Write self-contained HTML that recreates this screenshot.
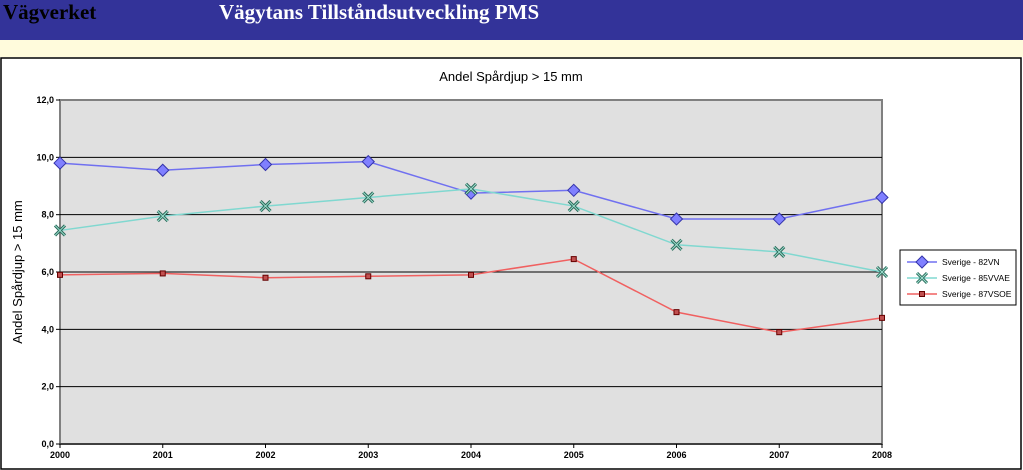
<!DOCTYPE html>
<html><head><meta charset="utf-8"><style>
body{margin:0;width:1023px;height:470px;overflow:hidden;background:#fff;font-family:"Liberation Sans",sans-serif}
#hdr{position:absolute;left:0;top:0;width:1023px;height:40px;background:#333399}
#band{position:absolute;left:0;top:40px;width:1023px;height:17px;background:#fffbdc}
.ht{position:absolute;top:0;font-family:"Liberation Serif",serif;font-weight:bold;font-size:21px}
</style></head><body>
<div id="hdr">
<div class="ht" style="left:3px;color:#000">Vägverket</div>
<div class="ht" style="left:219px;color:#fff">Vägytans Tillståndsutveckling PMS</div>
</div>
<div id="band"></div>
<svg id="c" width="1023" height="413" style="position:absolute;left:0;top:57px"></svg>
<script>
const years=["2000","2001","2002","2003","2004","2005","2006","2007","2008"];
const s82=[9.8,9.55,9.75,9.85,8.75,8.85,7.85,7.85,8.6];
const s85=[7.45,7.95,8.3,8.6,8.9,8.3,6.95,6.7,6.0];
const s87=[5.9,5.95,5.8,5.85,5.9,6.45,4.6,3.9,4.4];
const yTicks=[0,2,4,6,8,10,12];
const svg=document.getElementById('c');
const NS='http://www.w3.org/2000/svg';
const X0=60,X1=882,Y0=387,Y1=43;
const xs=i=>X0+i*(X1-X0)/(years.length-1);
const ys=v=>Y0-(v/12)*(Y0-Y1);
function mk(t,a,p){const e=document.createElementNS(NS,t);for(const k in a)e.setAttribute(k,a[k]);(p||svg).appendChild(e);return e;}
let e=mk('rect',{x:1,y:1,width:1020,height:411,fill:'#fff',stroke:'#000','stroke-width':1.5});


e=mk('text',{x:511,y:24,'text-anchor':'middle','font-size':13});e.textContent='Andel Spårdjup > 15 mm';


e=mk('rect',{x:X0,y:Y1,width:X1-X0,height:Y0-Y1,fill:'#e0e0e0',stroke:'#808080','stroke-width':2});


yTicks.forEach(v=>{
 if(v>0&&v<12){const g=mk('line',{x1:X0,x2:X1,y1:ys(v),y2:ys(v),stroke:'#000'});
 
 }
 mk('line',{x1:X0-4,x2:X0,y1:ys(v),y2:ys(v),stroke:'#000'});
 const t=mk('text',{x:X0-6,y:ys(v)+3,'text-anchor':'end','font-size':9,'font-weight':'bold'});t.textContent=v.toFixed(1).replace('.',',');
 
 
});
years.forEach((y,i)=>{
 mk('line',{x1:xs(i),x2:xs(i),y1:Y0,y2:Y0+4,stroke:'#000'});
 const t=mk('text',{x:xs(i),y:Y0+14,'text-anchor':'middle','font-size':9,'font-weight':'bold'});t.textContent=y;
 
 
});
mk('line',{x1:X0,x2:X1,y1:Y0,y2:Y0,stroke:'#000'});
e=mk('text',{x:22,y:215,'text-anchor':'middle','font-size':13,transform:'rotate(-90 22 215)'});e.textContent='Andel Spårdjup > 15 mm';


function marker(type,x,y,col,g){
 if(type==='d'){mk('polygon',{points:`${x},${y-6} ${x+6},${y} ${x},${y+6} ${x-6},${y}`,fill:'#8080ff',stroke:'#3333aa'},g);}
 else if(type==='x'){mk('path',{d:`M${x-5},${y-5}L${x+5},${y+5}M${x-5},${y+5}L${x+5},${y-5}`,stroke:'#2a6a5a','stroke-width':3},g);mk('path',{d:`M${x-5},${y-5}L${x+5},${y+5}M${x-5},${y+5}L${x+5},${y-5}`,stroke:'#9fe0d0','stroke-width':1},g);}
 else {mk('rect',{x:x-2.5,y:y-2.5,width:5,height:5,fill:'#c05050',stroke:'#600'},g);}
}
const series=[[s82,'#7070f0','d','series-82vn','Sverige - 82VN'],[s85,'#80d8d0','x','series-85vvae','Sverige - 85VVAE'],[s87,'#f06060','s','series-87vsoe','Sverige - 87VSOE']];
series.forEach(([d,col,m,name])=>{
 const g=mk('g',{});
 
 
 mk('polyline',{points:d.map((v,i)=>xs(i)+','+ys(v)).join(' '),fill:'none',stroke:col,'stroke-width':1.5},g);
 d.forEach((v,i)=>marker(m,xs(i),ys(v),col,g));
});
const lg=mk('g',{});


mk('rect',{x:900,y:193,width:116,height:55,fill:'#fff',stroke:'#000'},lg);
series.forEach(([d,col,m,name,label],k)=>{
 const y=205+k*16;
 const it=mk('g',{},lg);
 
 
 mk('line',{x1:907,x2:937,y1:y,y2:y,stroke:col,'stroke-width':1.5},it);
 marker(m,922,y,col,it);
 const t=mk('text',{x:942,y:y+3,'font-size':8.5},it);t.textContent=label;
});
</script>
</body></html>
